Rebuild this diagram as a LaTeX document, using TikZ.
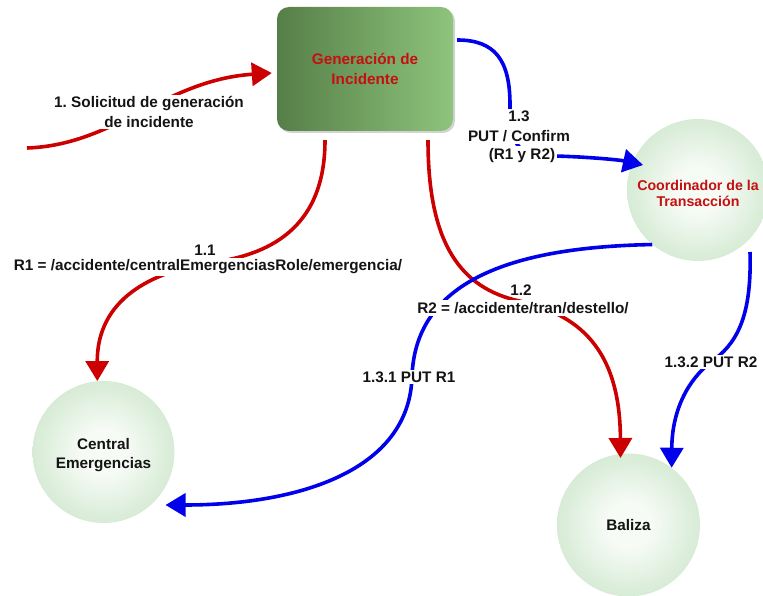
\documentclass[tikz,border=0pt]{standalone}
\usepackage{fontspec}
\setmainfont{Liberation Sans}
\usetikzlibrary{arrows.meta,shadows}
\definecolor{linered}{RGB}{204,0,0}
\definecolor{lineblue}{RGB}{0,0,235}
\definecolor{textred}{RGB}{196,16,16}
\definecolor{boxdark}{RGB}{86,126,72}
\definecolor{boxlight}{RGB}{142,196,124}
\definecolor{ballin}{RGB}{246,251,245}
\definecolor{ballout}{RGB}{168,212,166}
\pgfdeclareradialshading{greenball}{\pgfpoint{0bp}{0bp}}{color(0bp)=(ballin); color(8bp)=(ballin); color(50bp)=(ballout); color(100bp)=(ballout)}
\frenchspacing

\begin{document}
\begin{tikzpicture}[x=1pt,y=1pt,
  txt/.style={font=\bfseries\fontsize{15.3}{19.5}\selectfont, align=center, text=black!92},
  genbox/.style={txt, text=textred, rounded corners=12pt, minimum width=176pt,
    minimum height=124pt, left color=boxdark, right color=boxlight,
    drop shadow={shadow xshift=2pt, shadow yshift=-2pt, opacity=0.35}},
  ball/.style={circle, shading=greenball, minimum size=#1, inner sep=0pt},
  balltext/.style={txt, inner sep=0pt},
  lbl/.style={txt, fill=white, inner sep=2pt},
  flow/.style={line width=3.6pt, -{Triangle[length=20pt,width=23pt]}},
  redflow/.style={flow, draw=linered},
  blueflow/.style={flow, draw=lineblue}]

\path[use as bounding box] (0,0) rectangle (763,-596);
\clip (0,0) rectangle (763,-596);

% processes
\node[genbox] (gen) at (365,-69) {Generación de\\Incidente};
\node[ball=142pt, label={[balltext, name=coordtext, yshift=-3pt, text=textred,
    font=\bfseries\fontsize{14.2}{16}\selectfont]center:Coordinador de la\\Transacción}]
  (coord) at (698,-190) {};
\node[ball=142pt, label={[balltext, name=centext, yshift=-3pt]center:Central\\Emergencias}]
  (cen) at (103.5,-452) {};
\node[ball=143pt, label={[balltext, name=baltext]center:Baliza}] (bal) at (628.5,-525) {};

\coordinate (s0) at (27,-148);

% requests (red)
\draw[redflow] (s0) .. controls (115,-145) and (165,-80) .. ([shift={(-5,-4)}]gen.west);
\draw[redflow] ([shift={(-40,-9)}]gen.south) .. controls (325,-215) and (285,-252) .. (215,-262)
  .. controls (150,-271) and (97,-300) .. (cen.95);
\draw[redflow] ([shift={(63,-9)}]gen.south) .. controls (428,-235) and (455,-285) .. (515,-300)
  .. controls (570,-312) and (620,-340) .. ([shift={(-8,67)}]bal.center);

% confirmations (blue)
\draw[blueflow] ([shift={(4,29)}]gen.east) .. controls (495,-40) and (510,-60) .. (510,-105)
  .. controls (510,-150) and (520,-155) .. (555,-156)
  .. controls (590,-157) and (620,-160) .. ([shift={(-55,25)}]coord.center);
\draw[blueflow] (coord.230) .. controls (520,-247) and (415,-277) .. (412,-377)
  .. controls (409,-470) and (300,-505) .. ([shift={(62,-53)}]cen.center);
\draw[blueflow] ([shift={(52,-62)}]coord.center) .. controls (752,-320) and (735,-345) .. (711,-362)
  .. controls (688,-380) and (672,-410) .. (bal.53);

% labels
\node[lbl] (lsol) at (149,-112) {1. Solicitud de generación\\de incidente};
\node[lbl] (lr1) at (208,-267) {R1 = /accidente/centralEmergenciasRole/emergencia/};
\node[lbl, inner ysep=1pt] (l11) at (205,-250) {1.1};
\node[lbl] (lr2) at (523,-308) {R2 = /accidente/tran/destello/};
\node[lbl, inner ysep=1pt] (l12) at (521,-290) {1.2};
\node[lbl, inner ysep=3pt] (l13b) at (522,-156) {(R1 y R2)};
\node[lbl] (l13a) at (519,-126.5) {1.3\\PUT / Confirm};
\node[lbl] (l131) at (409,-377) {1.3.1 PUT R1};
\node[lbl] (l132) at (711,-362) {1.3.2 PUT R2};
\end{tikzpicture}
\end{document}
